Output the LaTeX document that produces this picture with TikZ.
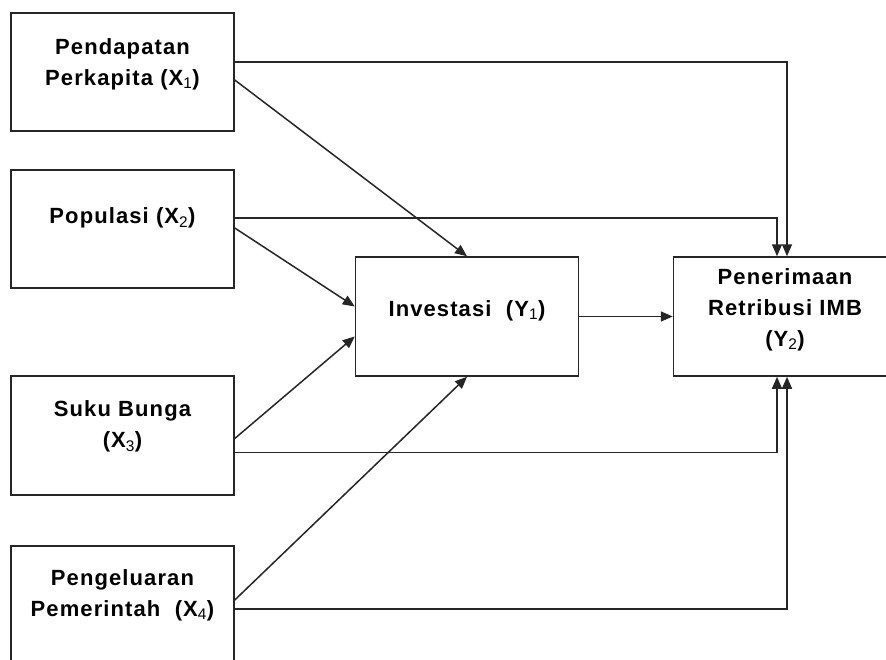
\documentclass[tikz,border=0pt]{standalone}
\usepackage{fontspec}
\setmainfont{Liberation Sans}[LetterSpace=5]
\usetikzlibrary{arrows.meta,calc}
\tikzset{
  box/.style={draw=black!85,line width=1.5pt,fill=white,minimum width=223pt,minimum height=118pt,inner sep=0pt},
  lbl/.style={align=center,font=\fontsize{22}{31}\selectfont\bfseries,inner sep=0pt},
  arr/.style={draw=black!85,line width=1.5pt,-{Triangle[length=12pt,width=10pt]}},
}
\newcommand{\sbs}[1]{\textsubscript{\mdseries #1}}
\begin{document}
\begin{tikzpicture}[x=1pt,y=-1pt]
\useasboundingbox (0,0) rectangle (886,659);
\clip (0,0) rectangle (886,659);
\fill[white] (0,0) rectangle (886,659);
% boxes
\node[box] (x1) at (122.5,72) {};
\node[box] (x2) at (122.5,229) {};
\node[box, minimum height=119pt] (x3) at (122.5,435.5) {};
\node[box] (x4) at (122.5,605) {};
\node[box, minimum height=119pt] (y1) at (467,316.5) {};
\node[box, minimum height=119pt] (y2) at (785,316.5) {};
% labels
\node[lbl] (t1) at ($(x1)+(0,-8)$) {Pendapatan\\Perkapita (X\sbs{1})};
\node[lbl] (t2) at ($(x2)+(0,-11)$) {Populasi (X\sbs{2})};
\node[lbl] (t3) at ($(x3)+(0,-9)$) {Suku Bunga\\(X\sbs{3})};
\node[lbl] (t4) at ($(x4)+(0,-10)$) {Pengeluaran\\Pemerintah~ (X\sbs{4})};
\node[lbl] (t5) at ($(y1)+(0,-6)$) {Investasi~ (Y\sbs{1})};
\node[lbl] (t6) at ($(y2)+(0,-7)$) {Penerimaan\\Retribusi IMB\\(Y\sbs{2})};
% connectors
\coordinate (y2n1) at ($(y2.north)+(2,0)$);
\coordinate (y2n2) at ($(y2.north)+(-8,0)$);
\coordinate (y2s1) at ($(y2.south)+(-8,0)$);
\coordinate (y2s2) at ($(y2.south)+(2,0)$);
\draw[arr] ($(x1.east)+(0,-10)$) -| (y2n1);
\draw[arr] ($(x1.east)+(0,8)$) -- (y1.north);
\draw[arr] ($(x2.east)+(0,-11)$) -| (y2n2);
\draw[arr] ($(x2.east)+(0,-1)$) -- ($(y1.west)+(0,-10)$);
\draw[arr] ($(x3.east)+(0,3)$) -- ($(y1.west)+(0,20)$);
\draw[arr] ($(x3.east)+(0,17)$) -| (y2s1);
\draw[arr] ($(x4.east)+(0,-5)$) -- (y1.south);
\draw[arr] ($(x4.east)+(0,4)$) -| (y2s2);
\draw[arr] (y1.east) -- (y2.west);
\end{tikzpicture}
\end{document}
